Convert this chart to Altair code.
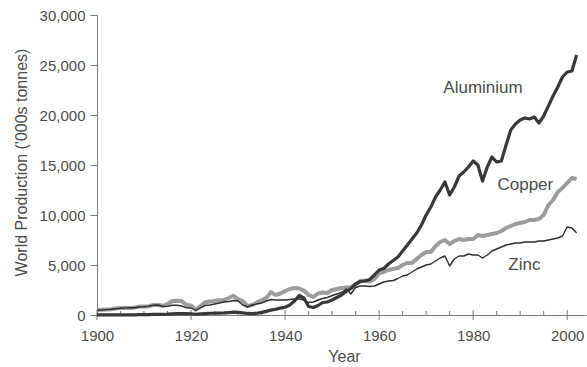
import altair as alt
import pandas as pd

# World production of three base metals, thousand tonnes per year
years = list(range(1900, 2003))

aluminium = [
    7, 8, 8, 8, 9, 12, 15, 20, 19, 30,
    44, 45, 61, 65, 70, 81, 115, 133, 139, 129,
    125, 73, 103, 140, 175, 180, 197, 206, 245, 280,
    269, 220, 153, 142, 170, 259, 362, 493, 579, 685,
    780, 1000, 1400, 1950, 1700, 850, 750, 950, 1250, 1300,
    1500, 1750, 2000, 2350, 2650, 3100, 3350, 3400, 3550, 4000,
    4500, 4650, 5100, 5450, 5800, 6400, 7000, 7600, 8200, 9000,
    10000, 10800, 11800, 12500, 13300, 12000, 12800, 13900, 14300, 14800,
    15400, 15000, 13400, 14800, 15800, 15300, 15400, 17000, 18500, 19100,
    19500, 19700, 19600, 19800, 19200, 19900, 20900, 21900, 22800, 23800,
    24300, 24400, 26000,
]

copper = [
    495, 525, 545, 575, 640, 700, 720, 710, 750, 840,
    858, 880, 1010, 1000, 920, 1080, 1400, 1420, 1400, 990,
    960, 540, 880, 1270, 1350, 1410, 1480, 1510, 1700, 1920,
    1580, 1380, 890, 1010, 1260, 1480, 1700, 2290, 1980, 2150,
    2400, 2600, 2700, 2650, 2450, 2000, 1800, 2150, 2250, 2200,
    2500, 2600, 2700, 2750, 2750, 3050, 3400, 3450, 3350, 3600,
    4200, 4300, 4500, 4600, 4700, 5000, 5200, 5200, 5600, 6000,
    6300, 6300, 6900, 7300, 7500, 7100, 7400, 7600, 7500, 7600,
    7600, 8000, 7900, 8000, 8100, 8200, 8400, 8700, 8900, 9100,
    9200, 9300, 9500, 9500, 9600, 10000, 11000, 11500, 12300, 12700,
    13200, 13700, 13600,
]

zinc = [
    480, 500, 540, 570, 620, 670, 710, 740, 730, 800,
    820, 890, 980, 1000, 850, 860, 970, 980, 900, 720,
    700, 450, 720, 950, 1000, 1100, 1200, 1300, 1350, 1450,
    1400, 1000, 800, 1000, 1100, 1200, 1400, 1550, 1500, 1500,
    1500, 1550, 1600, 1600, 1500, 1250, 1300, 1500, 1650, 1750,
    1950, 2100, 2250, 2600, 2100, 2750, 2900, 2900, 2850, 2900,
    3100, 3300, 3400, 3450, 3650, 3900, 4000, 4300, 4600, 4800,
    5000, 5100, 5400, 5700, 5900, 4900, 5600, 5900, 5900, 6100,
    6000, 6000, 5700, 6000, 6400, 6600, 6800, 7000, 7100, 7200,
    7200, 7300, 7300, 7300, 7400, 7400, 7500, 7600, 7700, 7900,
    8800, 8700, 8200,
]

# Series labels placed beside their lines (year, value at text baseline)
label_names = ["Aluminium", "Copper", "Zinc"]
label_years = [1982.1, 1991.1, 1990.9]
label_values = [22200, 12500, 4500]

major_years = [1900, 1920, 1940, 1960, 1980, 2000]
minor_years = [y for y in range(1905, 2001, 5) if y not in major_years]
y_ticks = [0, 5000, 10000, 15000, 20000, 25000, 30000]

frames = []
for name, vals in [("Aluminium", aluminium), ("Copper", copper), ("Zinc", zinc)]:
    frames.append(pd.DataFrame({"metal": name, "year": years, "value": vals}))
df = pd.concat(frames, ignore_index=True)

labels_df = pd.DataFrame({"label": label_names, "year": label_years, "value": label_values})
major_df = pd.DataFrame({"year": major_years, "value": [0] * len(major_years)})
minor_df = pd.DataFrame({"year": minor_years, "value": [0] * len(minor_years)})

FONT = "Liberation Sans"
AXIS_GREY = "#7a7a7a"
TEXT_GREY = "#4d4d4d"

x_scale = alt.Scale(domain=[1900, 2004], nice=False, zero=False)
y_scale = alt.Scale(domain=[0, 30000], nice=False)

y_axis = alt.Axis(
    values=y_ticks, format=",d", grid=False, labelFlush=False,
    domainColor=AXIS_GREY, tickColor=AXIS_GREY, tickSize=7,
    labelPadding=5, labelFont=FONT, labelFontSize=15, labelColor=TEXT_GREY,
    title="World Production ('000s tonnes)", titleFont=FONT, titleFontSize=16,
    titleFontWeight="normal", titleColor=TEXT_GREY,
    titleX=-76, titleY=147, titleAngle=-90, titleAlign="center", titleBaseline="middle",
)
# Year axis: baseline, labels and title; its ticks are drawn as marks below
x_axis = alt.Axis(
    values=major_years, format="d", grid=False, labelFlush=False,
    domainColor=AXIS_GREY, ticks=False, tickSize=0, labelPadding=13,
    labelFont=FONT, labelFontSize=15, labelColor=TEXT_GREY,
    title="Year", titleFont=FONT, titleFontSize=16, titleFontWeight="normal",
    titleColor=TEXT_GREY, titleX=247, titleY=46, titleAlign="center",
    titleBaseline="alphabetic",
)
x_enc = alt.X("year:Q", scale=x_scale, axis=x_axis)
y_enc = alt.Y("value:Q", scale=y_scale, axis=y_axis)

# Major year ticks cross the baseline; minor ticks rise above it
major_ticks = alt.Chart(major_df).mark_tick(
    orient="vertical", size=10, thickness=1, color=AXIS_GREY, opacity=1
).encode(x=x_enc, y=y_enc)

minor_ticks = alt.Chart(minor_df).mark_tick(
    orient="vertical", size=4, thickness=1, color=AXIS_GREY, opacity=1, yOffset=-2
).encode(x=x_enc, y=y_enc)

copper_line = alt.Chart(df).transform_filter(alt.datum.metal == "Copper").mark_line(
    color="#9c9c9c", strokeWidth=4, strokeJoin="round"
).encode(x=x_enc, y=y_enc)

zinc_line = alt.Chart(df).transform_filter(alt.datum.metal == "Zinc").mark_line(
    color="#2e2e2e", strokeWidth=1.4, strokeJoin="round"
).encode(x=x_enc, y=y_enc)

aluminium_line = alt.Chart(df).transform_filter(alt.datum.metal == "Aluminium").mark_line(
    color="#383838", strokeWidth=3.2, strokeJoin="round"
).encode(x=x_enc, y=y_enc)

series_labels = alt.Chart(labels_df).mark_text(
    font=FONT, fontSize=17, color=TEXT_GREY, align="center", baseline="alphabetic"
).encode(x=x_enc, y=y_enc, text="label:N")

chart = (
    alt.layer(major_ticks, minor_ticks, copper_line, zinc_line, aluminium_line, series_labels)
    .properties(
        width=489, height=300,
        autosize=alt.AutoSizeParams(type="none"),
        padding={"left": 97, "top": 15, "right": 1, "bottom": 52},
        background="white",
    )
    .configure_view(stroke=None)
)

chart.save("out.html", embed_options={"renderer": "svg", "actions": False})
